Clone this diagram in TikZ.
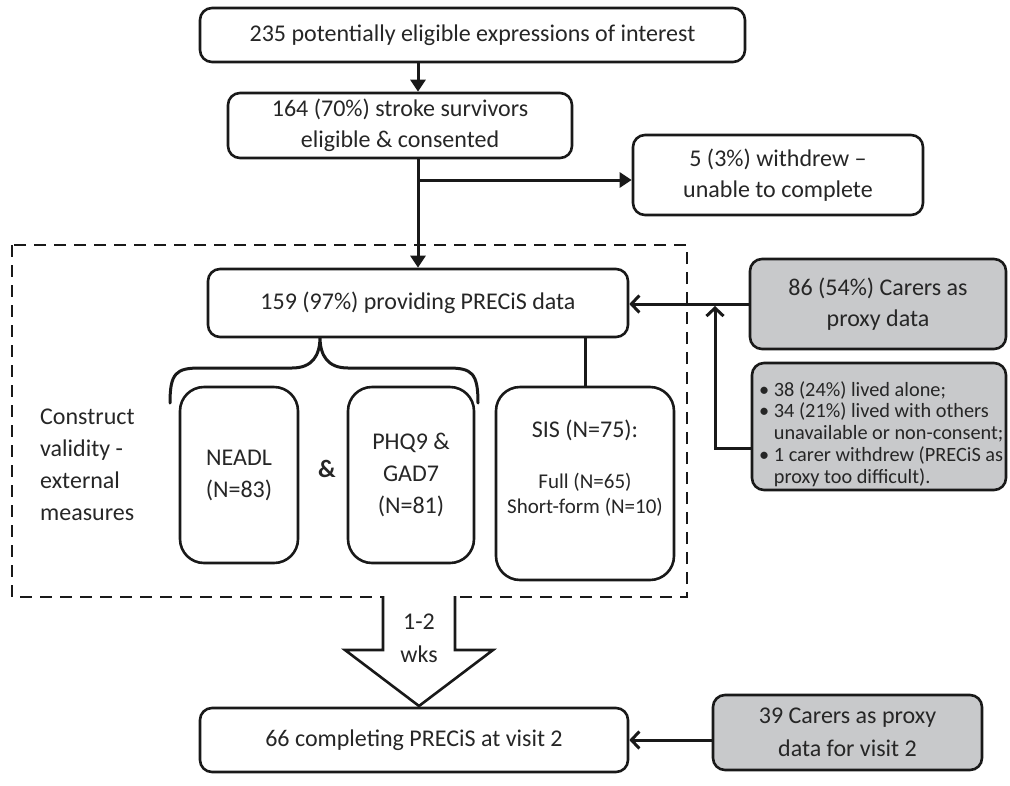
\documentclass[tikz,border=0pt]{standalone}
\usepackage{fontspec}
\setmainfont{Carlito}
\usetikzlibrary{arrows.meta}
\definecolor{boxgray}{HTML}{C8C9CB}
\definecolor{txt}{HTML}{262626}
\begin{document}
\begin{tikzpicture}[x=1pt,y=-1pt,
  every node/.style={text=txt},
  mainfont/.style={font=\fontsize{24}{31}\selectfont},
  tallfont/.style={font=\fontsize{24}{32}\selectfont},
  smallfont/.style={font=\fontsize{20.3}{21.8}\selectfont},
  wbox/.style={draw=black!90, line width=2.6pt, rounded corners=12pt, fill=white, align=center, mainfont, inner sep=0pt},
  gbox/.style={wbox, fill=boxgray},
  tallbox/.style={wbox, rounded corners=24pt, tallfont},
  arr/.style={line width=3pt, draw=black!90, -{Triangle[length=12pt,width=15pt]}},
  oarr/.style={line width=3pt, draw=black!90, -{Straight Barb[length=8pt,width=17pt]}},
  link/.style={line width=3pt, draw=black!90},
  dashbox/.style={line width=2.6pt, draw=black!90, dash pattern=on 12pt off 8pt}
]
\useasboundingbox (0,0) rectangle (1010,785);

% dashed region
\draw[dashbox] (12,245) rectangle (687,597);

% boxes
\node[wbox, minimum width=545pt, minimum height=54pt] (b1) at (472.5,35) {235 potentially eligible expressions of interest};
\node[wbox, minimum width=344pt, minimum height=65pt] (b2) at (400,125.5) {164 (70\%) stroke survivors\\eligible \& consented};
\node[wbox, minimum width=290pt, minimum height=80pt] (b4) at (778,175) {5 (3\%) withdrew --\\unable to complete};
\node[wbox, minimum width=420pt, minimum height=68pt] (b3) at (418,303) {159 (97\%) providing PRECiS data};
\node[gbox, minimum width=256pt, minimum height=90pt] (c86) at (878,304) {86 (54\%) Carers as\\proxy data};
\node[gbox, minimum width=254pt, minimum height=127pt] (bul) at (879,426.5) {};
\node[smallfont, align=left, anchor=west, inner sep=0pt] (bultxt) at (759,434) {\textbullet\ 38 (24\%) lived alone;\\\textbullet\ 34 (21\%) lived with others\\\phantom{\textbullet\ }unavailable or non-consent;\\\textbullet\ 1 carer withdrew (PRECiS as\\\phantom{\textbullet\ }proxy too difficult).};

\node[tallbox, minimum width=118pt, minimum height=176pt] (neadl) at (239,475) {NEADL\\(N=83)};
\node[font=\fontsize{25}{30}\selectfont\bfseries] (amp) at (327,469) {\&};
\node[tallbox, minimum width=126pt, minimum height=176pt] (phq) at (411,475) {PHQ9 \&\\GAD7\\(N=81)};
\node[tallbox, minimum width=178pt, minimum height=193pt] (sis) at (585,483.5) {};
\node[mainfont] (sist) at (585,430) {SIS (N=75):};
\node[font=\fontsize{21}{25.5}\selectfont, align=center] (sisf) at (585,495) {Full (N=65)\\Short-form (N=10)};
\node[tallfont, align=left, anchor=west, inner sep=0pt] (cv) at (40,465) {Construct\\validity -\\external\\measures};

\node[wbox, minimum width=428pt, minimum height=64pt] (b5) at (414,740) {66 completing PRECiS at visit 2};
\node[gbox, minimum width=269pt, minimum height=75pt, font=\fontsize{24}{33}\selectfont] (c39) at (847.5,732.5) {39 Carers as proxy\\data for visit 2};

% connectors
\draw[arr] (b1.south -| b3.north) -- (b2.north -| b3.north);
\draw[arr] (b2.south -| b3.north) -- (b3.north);
\draw[arr] (b2.south -| b3.north) |- ([yshift=-5pt]b4.west);
\draw[oarr] (c86.west) -- (c86.west -| b3.east);
\coordinate (jn) at (715,304);
\draw[oarr] ([yshift=-22pt]bul.west) -| ([yshift=-2pt]jn);
\draw[link] (sis.north) -- (sis.north |- b3.south);
\draw[oarr] (c39.west |- b5.east) -- (b5.east);

% brace
\coordinate (bt) at (320,337);
\draw[link, line cap=round] (170,403) .. controls (170,373) and (176,368) .. (200,368) -- (292,368) .. controls (312,368) and (320,356) .. (bt)
  .. controls (320,356) and (328,368) .. (348,368) -- (448,368) .. controls (472,368) and (478,373) .. (478,403);

% big down arrow
\fill[white] (383,596) -- (455,596) -- (455,650) -- (493,650) -- (419,706) -- (345,650) -- (383,650) -- cycle;
\draw[line width=2.6pt, draw=black!90, line join=miter] (383,596) -- (383,650) -- (345,650) -- (419,706) -- (493,650) -- (455,650) -- (455,596);
\node[font=\fontsize{24}{33}\selectfont, align=center] (wk) at (419,638) {1-2\\wks};
\end{tikzpicture}
\end{document}
